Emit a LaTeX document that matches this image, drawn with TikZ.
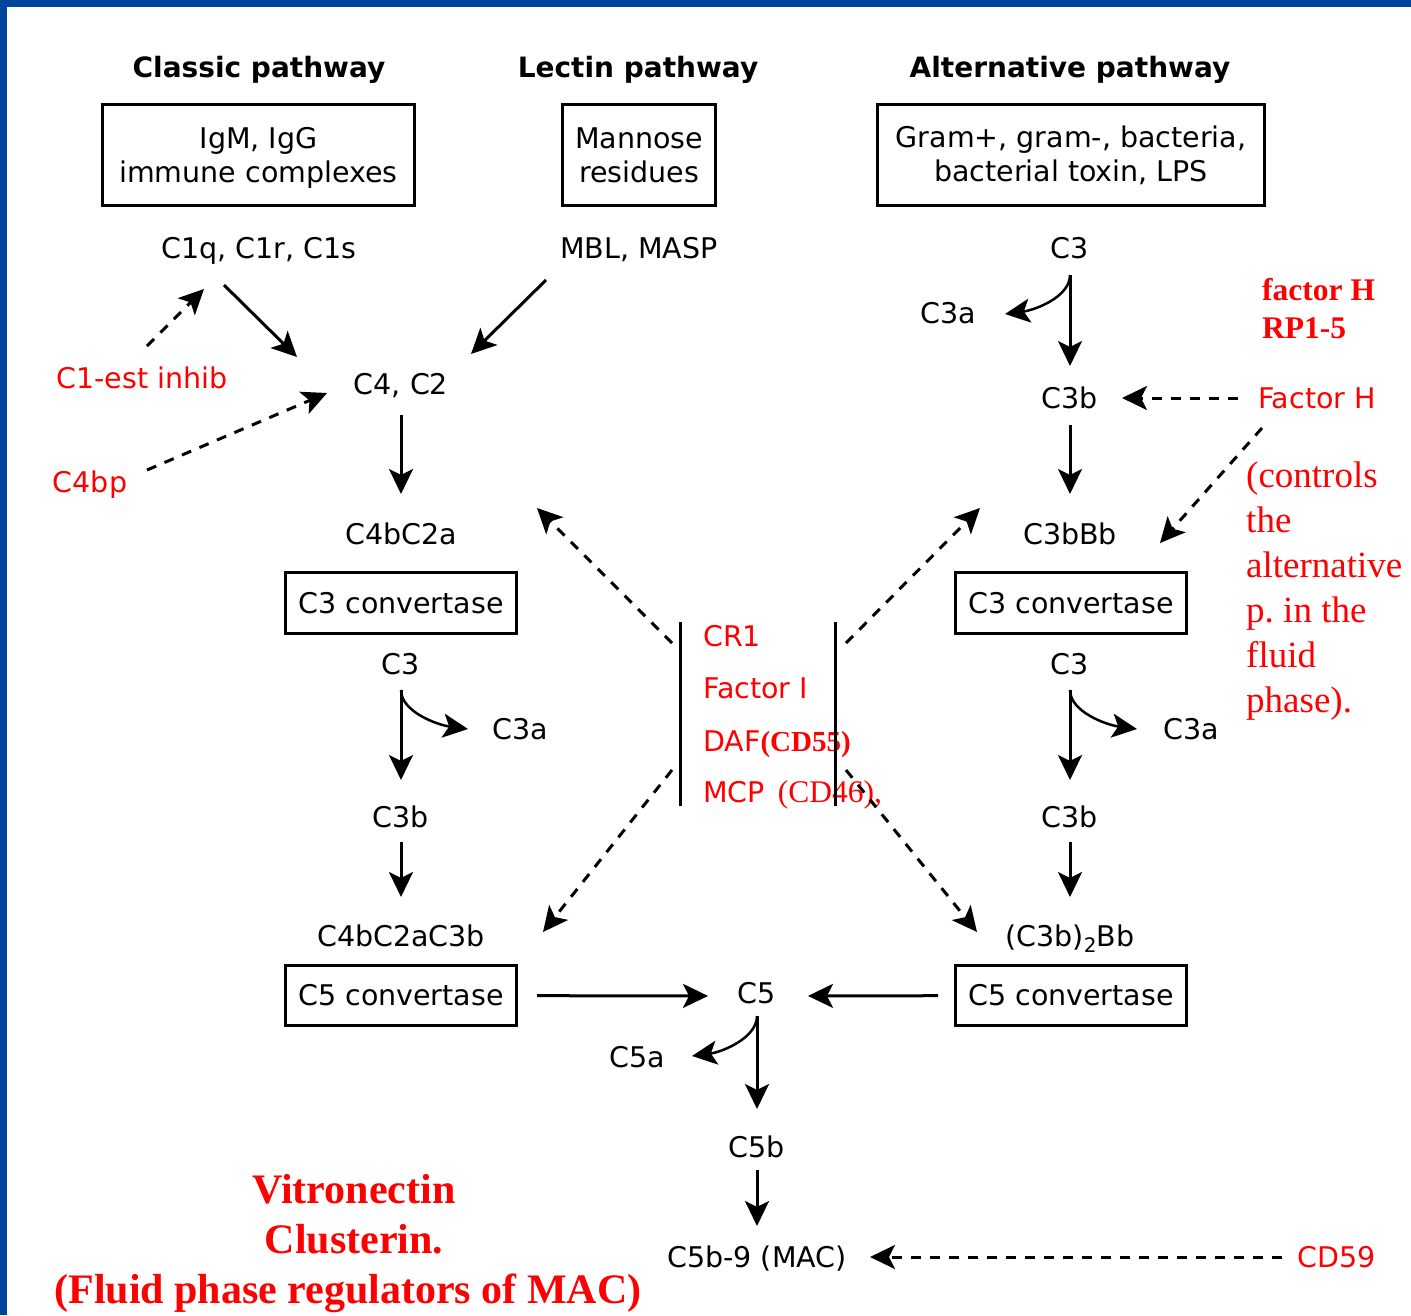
\documentclass[tikz,border=0pt]{standalone}
\usepackage{fontspec}
\usetikzlibrary{arrows.meta}
\newfontfamily\dvs{DejaVu Sans}
\newfontfamily\tms{Liberation Serif}
\definecolor{bordblue}{RGB}{0,68,155}
\definecolor{rred}{RGB}{255,0,0}
\begin{document}
\begin{tikzpicture}[x=1pt,y=-1pt,
 txt/.style={font=\dvs\fontsize{28.5}{34}\selectfont, inner sep=0pt, text height=21pt, text depth=6pt},
 rtxt/.style={txt, text=rred},
 ttl/.style={font=\dvs\bfseries\fontsize{28}{34}\selectfont, inner sep=0pt, text height=21pt, text depth=6pt},
 box/.style={draw, line width=3pt, inner sep=0pt, align=center, font=\dvs\fontsize{28.5}{34}\selectfont},
 arr/.style={line width=3pt, -{Stealth[length=25pt,width=24pt,inset=6pt]}},
 darr/.style={arr, dash pattern=on 10pt off 9pt},
 carr/.style={line width=2.5pt, -{Stealth[length=25pt,width=24pt,inset=6pt]}},
 serb/.style={font=\tms\bfseries\fontsize{31.5}{38}\selectfont, text=rred, inner sep=0pt, anchor=base west},
 serr/.style={font=\tms\fontsize{37}{45}\selectfont, text=rred, inner sep=0pt, anchor=base west},
 serbig/.style={font=\tms\bfseries\fontsize{42}{50}\selectfont, text=rred, inner sep=0pt, anchor=base},
 bar/.style={line width=3pt}
]
\useasboundingbox (0,0) rectangle (1411,1315);
\fill[white] (0,0) rectangle (1411,1315);
\fill[bordblue] (0,0) rectangle (1411,7);
\fill[bordblue] (0,0) rectangle (7,1315);

% titles
\node[ttl] (tcl) at (259,70) {Classic pathway};
\node[ttl] (tle) at (638,70) {Lectin pathway};
\node[ttl] (tal) at (1070,70) {Alternative pathway};

% top boxes
\node[box, minimum width=312pt, minimum height=101pt] (box1) at (258.5,155) {\rule{0pt}{27pt}IgM, IgG\\immune complexes};
\node[box, minimum width=153pt, minimum height=101pt] (box2) at (639,155) {Mannose\\residues};
\node[box, minimum width=387pt, minimum height=101pt] (box3) at (1071,155) {Gram+, gram-, bacteria,\\bacterial toxin, LPS};

% classic / lectin
\node[txt] (c1q) at (259,251) {C1q, C1r, C1s};
\node[txt] (mbl) at (639,251) {MBL, MASP};
\node[rtxt] (c1est) at (142,381) {C1-est inhib};
\node[txt] (c4c2) at (401,387) {C4, C2};
\node[rtxt] (c4bp) at (90,485) {C4bp};
\node[txt] (c4bc2a) at (401,537) {C4bC2a};
\node[box, minimum width=231pt, minimum height=61pt] (c3convL) at (401,603) {C3 convertase};
\node[txt] (c3l) at (401,667) {C3};
\node[txt] (c3a2) at (520,732) {C3a};
\node[txt] (c3bl) at (401,820) {C3b};
\node[txt] (c4bc2ac3b) at (401,939) {C4bC2aC3b};
\node[box, minimum width=231pt, minimum height=60pt] (c5convL) at (401,995.5) {C5 convertase};

% alternative
\node[txt] (c3alt) at (1070,251) {C3};
\node[txt] (c3a1) at (948,316) {C3a};
\node[txt] (c3balt) at (1070,401) {C3b};
\node[rtxt] (factH) at (1317,401) {Factor H};
\node[txt] (c3bbb) at (1070,537) {C3bBb};
\node[box, minimum width=231pt, minimum height=61pt] (c3convR) at (1071,603) {C3 convertase};
\node[txt] (c3r) at (1070,667) {C3};
\node[txt] (c3a3) at (1191,732) {C3a};
\node[txt] (c3br) at (1070,820) {C3b};
\node[txt] (c3b2bb) at (1070,939) {(C3b)\textsubscript{2}Bb};
\node[box, minimum width=231pt, minimum height=60pt] (c5convR) at (1071,995.5) {C5 convertase};

\node[serb] (fh1) at (1262,300) {factor H};
\node[serb] (fh2) at (1262,338) {RP1-5};
\node[serr] (ct1) at (1246,487) {(controls};
\node[serr] (ct2) at (1246,532) {the};
\node[serr] (ct3) at (1246,577) {alternative};
\node[serr] (ct4) at (1246,622) {p.\ in the};
\node[serr] (ct5) at (1246,667) {fluid};
\node[serr] (ct6) at (1246,712) {phase).};

% terminal
\node[txt] (c5) at (757,996) {C5};
\node[txt] (c5a) at (637,1060) {C5a};
\node[txt] (c5b) at (757,1150) {C5b};
\node[txt] (mac) at (757,1260) {C5b-9 (MAC)};
\node[rtxt] (cd59) at (1337,1260) {CD59};

\node[serbig] (vit1) at (354,1203) {Vitronectin};
\node[serbig] (vit2) at (354,1253) {Clusterin.};
\node[serbig] (vit3) at (348,1303) {(Fluid phase regulators of MAC)};

% regulators
\node[rtxt, anchor=west] (cr1) at (703,639) {CR1};
\node[rtxt, anchor=west] (facI) at (703,691) {Factor I};
\node[rtxt, anchor=west] (daf) at (703,744) {DAF{\tms\bfseries\fontsize{29}{34}\selectfont(CD55)}};
\node[rtxt, anchor=west] (mcp) at (703,795) {MCP\hspace{13pt}{\tms\fontsize{31.5}{34}\selectfont(CD46),}};
\coordinate (bLt) at (680,622);
\coordinate (bLb) at (680,806);
\coordinate (bRt) at (835,622);
\coordinate (bRb) at (835,806);
\draw[bar] (bLt) -- (bLb);
\draw[bar] (bRt) -- (bRb);

% vertical arrows
\draw[arr, shorten <=24pt, shorten >=35pt] (c3alt.center) -- (c3balt.center);
\draw[arr, shorten <=24pt, shorten >=43pt] (c3balt.center) -- (c3bbb.center);
\draw[arr, shorten <=28pt, shorten >=43pt] (c4c2.center) -- (c4bc2a.center);
\draw[arr, shorten <=23pt, shorten >=40pt] (c3l.center) -- (c3bl.center);
\draw[arr, shorten <=22pt, shorten >=42pt] (c3bl.center) -- (c4bc2ac3b.center);
\draw[arr, shorten <=23pt, shorten >=40pt] (c3r.center) -- (c3br.center);
\draw[arr, shorten <=22pt, shorten >=42pt] (c3br.center) -- (c3b2bb.center);
\draw[arr, shorten <=20pt, shorten >=41pt] (c5.center) -- (c5b.center);
\draw[arr, shorten <=20pt, shorten >=34pt] (c5b.center) -- (mac.center);

% horizontal arrows
\draw[arr, shorten <=136pt, shorten >=49pt] (c5convL.center) -- (c5.center);
\draw[arr, shorten <=133pt, shorten >=51pt] (c5convR.center) -- (c5.center);
\draw[darr, shorten <=79pt, shorten >=52pt] ([yshift=3pt]factH.center) -- ([yshift=3pt]c3balt.center);
\draw[darr, shorten <=55pt, shorten >=113pt] ([yshift=3pt]cd59.center) -- ([yshift=3pt]mac.center);

% diagonal arrows
\draw[arr] ([xshift=-35pt,yshift=-34pt]c1q.center) -- ([xshift=-104pt,yshift=30pt]c4c2.center);
\draw[arr] ([xshift=-93pt,yshift=-29pt]mbl.center) -- ([xshift=70pt,yshift=33pt]c4c2.center);
\draw[darr] ([xshift=5pt,yshift=35pt]c1est.center) -- ([xshift=-55pt,yshift=-38pt]c1q.center);
\draw[darr] ([xshift=57pt,yshift=15pt]c4bp.center) -- ([xshift=-74pt,yshift=-6pt]c4c2.center);
\draw[darr] ([xshift=-55pt,yshift=-27pt]factH.center) -- ([xshift=90pt,yshift=-6pt]c3bbb.center);
\draw[darr] ([xshift=-8pt,yshift=-21pt]bLt) -- ([xshift=136pt,yshift=29pt]c4bc2a.center);
\draw[darr] ([xshift=11pt,yshift=-21pt]bRt) -- ([xshift=-90pt,yshift=29pt]c3bbb.center);
\draw[darr] ([xshift=-8pt,yshift=36pt]bLb) -- ([xshift=142pt,yshift=7pt]c4bc2ac3b.center);
\draw[darr] ([xshift=11pt,yshift=36pt]bRb) -- ([xshift=-93pt,yshift=7pt]c3b2bb.center);

% curved cleavage arrows
\draw[carr] ([yshift=-24pt]c3alt.center) .. controls +(0,22) and +(30,-4) .. ([xshift=57pt,yshift=2pt]c3a1.center);
\draw[carr] ([yshift=-23pt]c3l.center) .. controls +(0,22) and +(-30,-4) .. ([xshift=-52pt,yshift=3pt]c3a2.center);
\draw[carr] ([yshift=-23pt]c3r.center) .. controls +(0,22) and +(-30,-4) .. ([xshift=-54pt,yshift=3pt]c3a3.center);
\draw[carr] ([yshift=-20pt]c5.center) .. controls +(0,22) and +(30,-4) .. ([xshift=55pt,yshift=4pt]c5a.center);
\end{tikzpicture}
\end{document}
